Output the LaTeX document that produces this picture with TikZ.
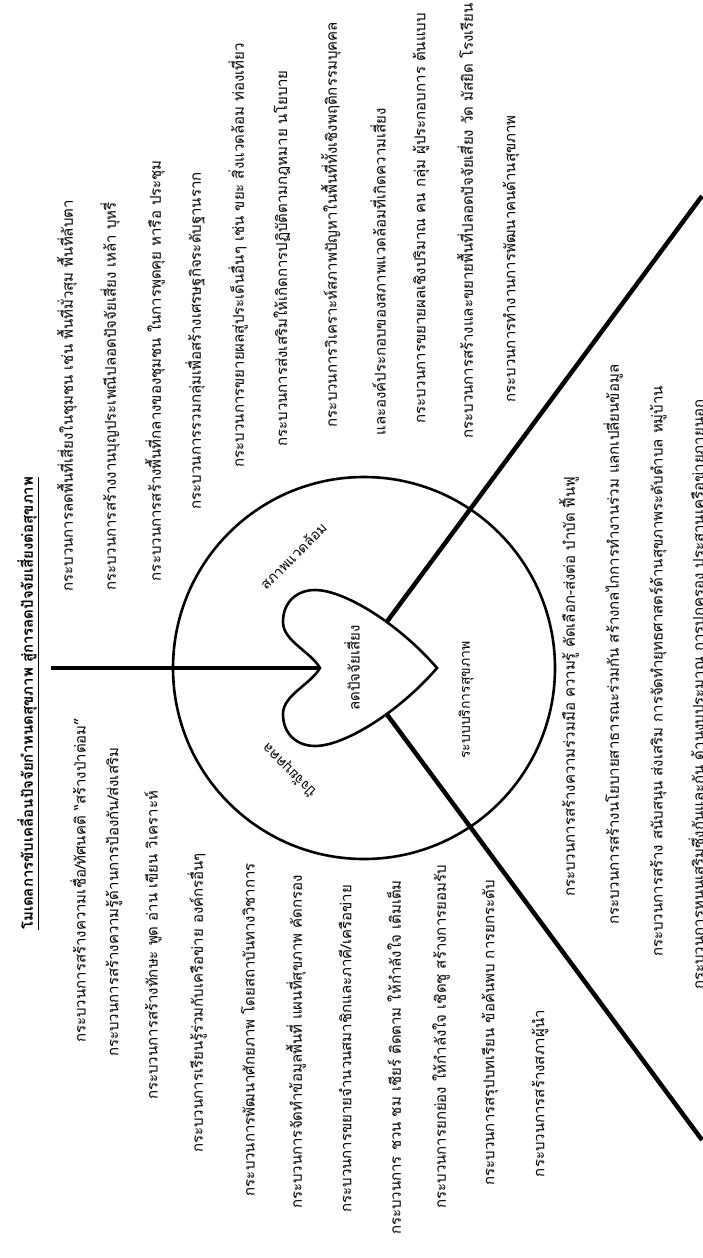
\documentclass[tikz,border=0pt]{standalone}
\usepackage{fontspec}
\setmainfont{Loma}[Script=Thai]
\usetikzlibrary{calc}

\begin{document}
\begin{tikzpicture}[x=1pt,y=-1pt,
  txt/.style={rotate=90,inner sep=0pt,font=\fontsize{15}{18}\selectfont},
  lbl/.style={inner sep=0pt,font=\fontsize{14}{17}\selectfont},
  bar/.style={line width=4.5pt},
  rim/.style={line width=2.6pt}]
  \useasboundingbox (0,0) rectangle (702,1258);
  % frame of the diagram
  \coordinate (c) at (364,668);
  \coordinate (lft) at (51,668);
  \coordinate (notch) at (320,668);
  \coordinate (h1) at (380,631);
  \coordinate (h2) at (380,705);
  \coordinate (e1) at (702,196);
  \coordinate (e2) at (702,1140);
  \draw[bar] (lft) -- (notch);
  \draw[bar] (h1) -- (e1);
  \draw[bar] (h2) -- (e2);
  \draw[rim] (c) circle[radius=191];
  \draw[rim,fill=white] (notch) .. controls (310,651) and (283,641) .. (283,622)
    .. controls (283,601) and (298,590) .. (315,590)
    .. controls (345,590) and (400,625) .. (437,668)
    .. controls (400,711) and (345,746) .. (315,746)
    .. controls (298,746) and (283,735) .. (283,714)
    .. controls (283,695) and (310,685) .. (notch) -- cycle;
  % labels inside the circle
  \node[txt] (core) at (352,668) {ลดปัจจัยเสี่ยง};
  \node[lbl,rotate=45] (env) at (293,556) {สภาพแวดล้อม};
  \node[lbl,rotate=135] (self) at (290,770) {ปัจจัยบุคคล};
  \node[lbl,rotate=90] (care) at (466,700) {ระบบบริการสุขภาพ};
  % title
  \node[txt,anchor=west,font=\bfseries\fontsize{15}{18}\selectfont] (title) at (28,930)
    {\underline{โมเดลการขับเคลื่อนปัจจัยกำหนดสุขภาพ สู่การลดปัจจัยเสี่ยงต่อสุขภาพ}};
  % left upper group
  \node[txt,anchor=west] (lt1) at (78,1043) {กระบวนการสร้างความเชื่อ/ทัศนคติ “สร้างป่าต่อม”};
  \node[txt,anchor=west] (lt2) at (114,1057) {กระบวนการสร้างความรู้ด้านการป้องกัน/ส่งเสริม};
  \node[txt,anchor=west] (lt3) at (153,1100) {กระบวนการสร้างทักษะ พูด อ่าน เขียน วิเคราะห์};
  \node[txt,anchor=west] (lt4) at (197,1153) {กระบวนการเรียนรู้ร่วมกับเครือข่าย องค์กรอื่นๆ};
  % right upper group
  \node[txt,anchor=east] (rt1) at (67,200) {กระบวนการลดพื้นที่เสี่ยงในชุมชน เช่น พื้นที่มั่วสุม พื้นที่ลับตา};
  \node[txt,anchor=east] (rt2) at (110,202) {กระบวนการสร้างงานบุญประเพณีปลอดปัจจัยเสี่ยง เหล้า บุหรี่};
  \node[txt,anchor=east] (rt3) at (155,160) {กระบวนการสร้างพื้นที่กลางของชุมชน ในการพูดคุย หารือ ประชุม};
  \node[txt,anchor=east] (rt4) at (195,172) {กระบวนการรวมกลุ่มเพื่อสร้างเศรษฐกิจระดับฐานราก};
  \node[txt,anchor=east] (rt5) at (238,43) {กระบวนการขยายผลสู่ประเด็นอื่นๆ เช่น ขยะ สิ่งแวดล้อม ท่องเที่ยว};
  \node[txt,anchor=east] (rt6) at (282,70) {กระบวนการส่งเสริมให้เกิดการปฏิบัติตามกฎหมาย นโยบาย};
  \node[txt,anchor=east] (rt7) at (331,22) {กระบวนการวิเคราะห์สภาพปัญหาในพื้นที่ทั้งเชิงพฤติกรรมบุคคล};
  \node[txt,anchor=east] (rt8) at (378,108) {และองค์ประกอบของสภาพแวดล้อมที่เกิดความเสี่ยง};
  \node[txt,anchor=east] (rt9) at (421,13) {กระบวนการขยายผลเชิงปริมาณ คน กลุ่ม ผู้ประกอบการ ต้นแบบ};
  \node[txt,anchor=east] (rt10) at (465,3) {กระบวนการสร้างและขยายพื้นที่ปลอดปัจจัยเสี่ยง วัด มัสยิด โรงเรียน};
  \node[txt,anchor=east] (rt11) at (511,115) {กระบวนการทำงานการพัฒนาคนด้านสุขภาพ};
  % left lower group
  \node[txt,anchor=east] (lb1) at (248,863) {กระบวนการพัฒนาศักยภาพ โดยสถาบันทางวิชาการ};
  \node[txt,anchor=east] (lb2) at (296,875) {กระบวนการจัดทำข้อมูลพื้นที่ แผนที่สุขภาพ คัดกรอง};
  \node[txt,anchor=east] (lb3) at (345,885) {กระบวนการขยายจำนวนสมาชิกและภาคี/เครือข่าย};
  \node[txt,anchor=east] (lb4) at (394,880) {กระบวนการ ชวน ชม เชียร์ ติดตาม ให้กำลังใจ เติมเต็ม};
  \node[txt,anchor=east] (lb5) at (441,865) {กระบวนการยกย่อง ให้กำลังใจ เชิดชู สร้างการยอมรับ};
  \node[txt,anchor=east] (lb6) at (490,880) {กระบวนการสรุปบทเรียน ข้อค้นพบ การยกระดับ};
  \node[txt,anchor=east] (lb7) at (540,1010) {กระบวนการสร้างสภาผู้นำ};
  % lower right group
  \node[txt,anchor=west] (bt1) at (569,897) {กระบวนการสร้างความร่วมมือ ความรู้ คัดเลือก-ส่งต่อ บำบัด ฟื้นฟู};
  \node[txt,anchor=west] (bt2) at (613,925) {กระบวนการสร้างนโยบายสาธารณะร่วมกัน สร้างกลไกการทำงานร่วม แลกเปลี่ยนข้อมูล};
  \node[txt,anchor=west] (bt3) at (658,957) {กระบวนการสร้าง สนับสนุน ส่งเสริม การจัดทำยุทธศาสตร์ด้านสุขภาพระดับตำบล หมู่บ้าน};
  \node[txt,anchor=west] (bt4) at (698,990) {กระบวนการหนุนเสริมซึ่งกันและกัน ด้านงบประมาณ การปกครอง ประสานเครือข่ายภายนอก};
\end{tikzpicture}
\end{document}
